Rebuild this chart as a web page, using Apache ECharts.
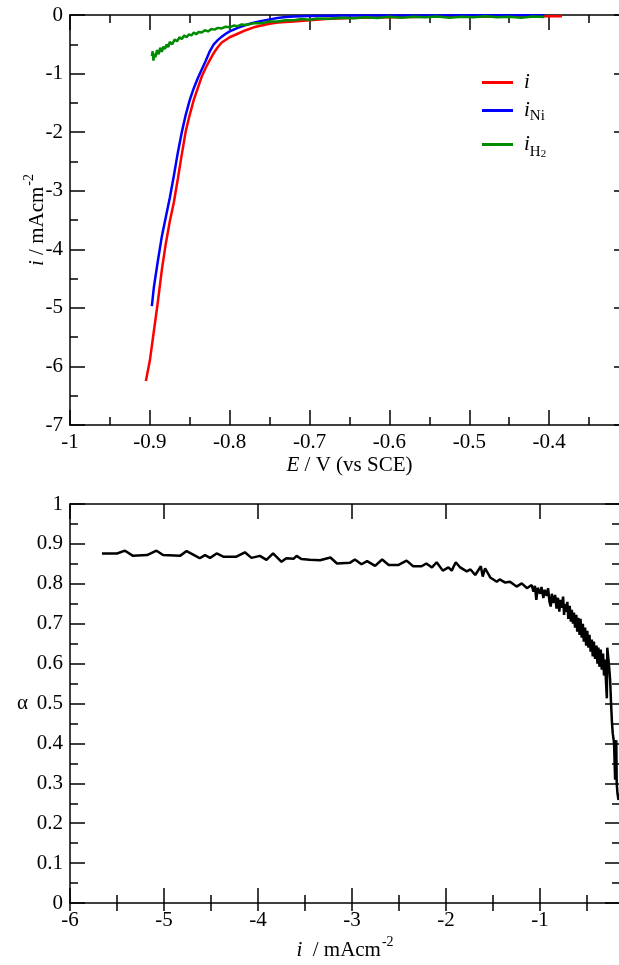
<!DOCTYPE html>
<html>
<head>
<meta charset="utf-8">
<script src="https://cdn.jsdelivr.net/npm/echarts@6/dist/echarts.min.js"></script>
<style>
  html, body { margin: 0; padding: 0; background: #fff; overflow: hidden; }
  #chart { width: 640px; height: 965px; }
</style>
</head>
<body>
<div id="chart"></div>
<script>
// top panel: current vs potential
const redE = [-0.905, -0.900, -0.895, -0.890, -0.885, -0.880, -0.875, -0.870, -0.865, -0.860, -0.855, -0.850, -0.845, -0.840, -0.835, -0.830, -0.825, -0.820, -0.815, -0.810, -0.800, -0.790, -0.780, -0.770, -0.760, -0.750, -0.740, -0.720, -0.700, -0.680, -0.650, -0.600, -0.550, -0.500, -0.450, -0.400, -0.384];
const redI = [-6.25, -5.90, -5.40, -4.90, -4.35, -3.90, -3.52, -3.20, -2.80, -2.38, -1.98, -1.70, -1.45, -1.25, -1.05, -0.90, -0.77, -0.65, -0.55, -0.47, -0.38, -0.32, -0.26, -0.21, -0.18, -0.15, -0.13, -0.11, -0.09, -0.07, -0.05, -0.04, -0.03, -0.03, -0.025, -0.02, -0.02];

const blueE = [-0.8975, -0.895, -0.890, -0.885, -0.880, -0.875, -0.870, -0.865, -0.860, -0.855, -0.850, -0.845, -0.840, -0.835, -0.830, -0.825, -0.820, -0.815, -0.810, -0.805, -0.800, -0.790, -0.780, -0.770, -0.760, -0.750, -0.740, -0.730, -0.720, -0.700, -0.650, -0.600, -0.550, -0.500, -0.450, -0.406];
const blueI = [-4.97, -4.65, -4.20, -3.78, -3.45, -3.12, -2.75, -2.35, -2.00, -1.70, -1.45, -1.25, -1.08, -0.93, -0.78, -0.62, -0.50, -0.43, -0.37, -0.32, -0.28, -0.22, -0.17, -0.13, -0.10, -0.075, -0.05, -0.035, -0.025, -0.015, -0.01, -0.01, -0.01, -0.005, -0.005, -0.005];

const greenE = [-0.8975, -0.8965, -0.8955, -0.8945, -0.893, -0.891, -0.889, -0.887, -0.885, -0.883, -0.881, -0.879, -0.877, -0.875, -0.872, -0.869, -0.866, -0.863, -0.860, -0.857, -0.854, -0.851, -0.848, -0.845, -0.842, -0.839, -0.835, -0.831, -0.827, -0.823, -0.819, -0.815, -0.810, -0.805, -0.800, -0.795, -0.790, -0.785, -0.780, -0.770, -0.760, -0.750, -0.740, -0.730, -0.720, -0.710, -0.700, -0.690, -0.675, -0.660, -0.645, -0.630, -0.615, -0.600, -0.585, -0.570, -0.555, -0.540, -0.525, -0.510, -0.495, -0.480, -0.465, -0.450, -0.435, -0.420, -0.406];
const greenI = [-0.70, -0.62, -0.78, -0.66, -0.72, -0.60, -0.67, -0.56, -0.63, -0.54, -0.58, -0.50, -0.55, -0.46, -0.50, -0.42, -0.45, -0.38, -0.41, -0.35, -0.38, -0.33, -0.35, -0.30, -0.33, -0.29, -0.30, -0.26, -0.28, -0.24, -0.25, -0.22, -0.23, -0.20, -0.21, -0.18, -0.19, -0.16, -0.17, -0.14, -0.14, -0.11, -0.11, -0.09, -0.09, -0.07, -0.08, -0.06, -0.065, -0.045, -0.055, -0.04, -0.05, -0.03, -0.045, -0.03, -0.04, -0.025, -0.045, -0.03, -0.04, -0.02, -0.04, -0.03, -0.045, -0.025, -0.035];

// bottom panel: alpha vs current
const alphaI = [-5.66, -5.50, -5.415, -5.33, -5.18, -5.08, -5.01, -4.83, -4.76, -4.65, -4.62, -4.564, -4.51, -4.44, -4.37, -4.23, -4.14, -4.07, -3.98, -3.91, -3.84, -3.75, -3.70, -3.62, -3.59, -3.54, -3.45, -3.34, -3.23, -3.16, -3.02, -2.97, -2.90, -2.84, -2.755, -2.68, -2.61, -2.51, -2.42, -2.35, -2.26, -2.21, -2.15, -2.10, -2.035, -1.975, -1.94, -1.897, -1.85, -1.78, -1.74, -1.69, -1.63, -1.61, -1.585, -1.53, -1.46, -1.43, -1.37, -1.32, -1.25, -1.195, -1.14,
    -1.09, -1.07, -1.055, -1.04, -1.025, -1.00, -0.985, -0.965, -0.95, -0.93, -0.915, -0.90, -0.887, -0.875, -0.86, -0.84, -0.825, -0.81, -0.795, -0.785, -0.77, -0.755, -0.745, -0.734, -0.72, -0.71, -0.70, -0.685, -0.672, -0.663, -0.65, -0.64, -0.628, -0.615, -0.605, -0.593, -0.58, -0.57, -0.557, -0.545, -0.535, -0.521, -0.51, -0.498, -0.486, -0.475, -0.462, -0.45, -0.44, -0.428, -0.415, -0.40, -0.39, -0.38, -0.368, -0.355, -0.344, -0.33, -0.32, -0.309, -0.30,
    -0.29, -0.285, -0.273, -0.265, -0.255, -0.245, -0.235, -0.227, -0.213, -0.205, -0.202, -0.198, -0.19, -0.185, -0.177, -0.166];
const alphaV = [0.876, 0.876, 0.883, 0.870, 0.872, 0.883, 0.872, 0.870, 0.882, 0.868, 0.864, 0.872, 0.865, 0.876, 0.868, 0.868, 0.879, 0.865, 0.870, 0.860, 0.876, 0.855, 0.864, 0.863, 0.870, 0.862, 0.860, 0.859, 0.866, 0.851, 0.853, 0.861, 0.849, 0.857, 0.845, 0.861, 0.847, 0.847, 0.858, 0.844, 0.844, 0.851, 0.841, 0.854, 0.833, 0.841, 0.833, 0.854, 0.841, 0.831, 0.836, 0.822, 0.844, 0.818, 0.839, 0.816, 0.805, 0.811, 0.803, 0.805, 0.793, 0.801, 0.789,
    0.797, 0.780, 0.795, 0.760, 0.790, 0.775, 0.792, 0.764, 0.785, 0.770, 0.789, 0.755, 0.743, 0.775, 0.752, 0.772, 0.738, 0.765, 0.730, 0.760, 0.740, 0.768, 0.722, 0.750, 0.730, 0.755, 0.712, 0.745, 0.705, 0.735, 0.700, 0.728, 0.690, 0.722, 0.680, 0.715, 0.672, 0.712, 0.665, 0.700, 0.655, 0.690, 0.645, 0.682, 0.640, 0.672, 0.630, 0.660, 0.618, 0.655, 0.612, 0.645, 0.600, 0.640, 0.592, 0.635, 0.585, 0.625, 0.570, 0.610, 0.560,
    0.513, 0.640, 0.642, 0.590, 0.559, 0.500, 0.450, 0.425, 0.400, 0.400, 0.309, 0.400, 0.408, 0.300, 0.275, 0.258];

const seriesNames = ['i', 'iNi', 'iH2'];
const legendLabels = {
    'i': '{it|i}',
    'iNi': '{it|i}{sub|Ni}',
    'iH2': '{it|i}{sub|H}{sub2|2}'
};

const FONT = '"Liberation Serif", "DejaVu Serif", serif';

function pairs(xs, ys) {
    return xs.map(function (x, k) { return [x, ys[k]]; });
}

function numLabel(v) {
    return String(+v.toFixed(2));
}

function axisBase(extra) {
    let base = {
        type: 'value',
        scale: true,
        nameMoveOverlap: false,
        axisLine: { show: true, onZero: false, lineStyle: { color: '#000', width: 1.5 } },
        axisTick: { show: true, inside: true, length: 15, lineStyle: { color: '#000', width: 1.5 } },
        splitLine: { show: false },
        axisLabel: { show: false }
    };
    return Object.assign(base, extra);
}

const minor = { show: true, splitNumber: 2, length: 8, lineStyle: { color: '#000', width: 1.5 } };
const tickLabel = { color: '#000', fontFamily: FONT, fontSize: 21, margin: 7 };
const nameStyle = {
    color: '#000', fontFamily: FONT, fontSize: 21,
    rich: {
        it: { fontStyle: 'italic', fontFamily: FONT, fontSize: 21, color: '#000', verticalAlign: 'bottom' },
        n: { fontFamily: FONT, fontSize: 21, color: '#000', verticalAlign: 'bottom' },
        sup: { fontFamily: FONT, fontSize: 14, color: '#000', verticalAlign: 'top', padding: [0, 0, 12, 1] }
    }
};

let chart = echarts.init(document.getElementById('chart'), null, { renderer: 'canvas' });

let option = {
    animation: false,
    backgroundColor: '#fff',
    grid: [
        { left: 70, top: 15, width: 559, height: 410, containLabel: false },
        { left: 70, top: 504, width: 550, height: 399, containLabel: false }
    ],
    xAxis: [
        axisBase({
            gridIndex: 0, position: 'bottom', min: -1, max: -0.3, interval: 0.1,
            minorTick: minor,
            axisLabel: Object.assign({ show: true, formatter: function (v) {
                return v > -0.35 ? '' : numLabel(v);
            } }, tickLabel),
            name: '{it|E}{n| / V (vs SCE)}', nameLocation: 'middle', nameGap: 30,
            nameTextStyle: nameStyle
        }),
        axisBase({
            gridIndex: 0, position: 'top', min: -1, max: -0.3, interval: 0.1,
            minorTick: minor
        }),
        axisBase({
            gridIndex: 1, position: 'bottom', min: -6, max: -0.15, interval: 1,
            axisLabel: Object.assign({ show: true, formatter: function (v) {
                return Math.abs(v - Math.round(v)) > 1e-6 ? '' : numLabel(v);
            } }, tickLabel),
            name: '{it|i}{n|  / mAcm}{sup|-2}', nameLocation: 'middle', nameGap: 32,
            nameTextStyle: nameStyle
        }),
        axisBase({
            gridIndex: 1, position: 'top', min: -6, max: -0.15, interval: 1
        }),
        axisBase({
            gridIndex: 1, position: 'top', min: -6, max: -0.15, interval: 0.5,
            axisLine: { show: false },
            axisTick: { show: true, inside: true, length: 8, lineStyle: { color: '#000', width: 1.5 } }
        }),
        axisBase({
            gridIndex: 1, position: 'bottom', min: -6, max: -0.15, interval: 0.5,
            axisLine: { show: false },
            axisTick: { show: true, inside: true, length: 8, lineStyle: { color: '#000', width: 1.5 } }
        })
    ],
    yAxis: [
        axisBase({
            gridIndex: 0, position: 'left', min: -7, max: 0, interval: 1,
            minorTick: minor,
            axisLabel: Object.assign({ show: true, formatter: numLabel }, tickLabel),
            name: '{it|i}{n| / mAcm}{sup|-2}', nameLocation: 'middle', nameGap: 22,
            nameTextStyle: nameStyle
        }),
        axisBase({
            gridIndex: 0, position: 'right', min: -7, max: 0, interval: 1,
            minorTick: minor
        }),
        axisBase({
            gridIndex: 1, position: 'left', min: 0, max: 1, interval: 0.1,
            minorTick: minor,
            axisLabel: Object.assign({ show: true, formatter: numLabel }, tickLabel),
            name: 'α', nameLocation: 'middle', nameGap: 42, nameRotate: 0,
            nameTextStyle: { color: '#000', fontFamily: FONT, fontSize: 21, padding: [16, 0, 0, 0] }
        }),
        axisBase({
            gridIndex: 1, position: 'right', min: 0, max: 1, interval: 0.1,
            minorTick: minor
        })
    ],
    legend: [67, 95, 129].map(function (top, k) {
        return {
            data: [seriesNames[k]],
            left: 477,
            top: top,
            icon: 'rect',
            itemWidth: 31,
            itemHeight: 3,
            itemGap: 10,
            selectedMode: false,
            formatter: function (name) { return legendLabels[name]; },
            textStyle: {
                color: '#000', fontFamily: FONT, fontSize: 21,
                padding: [0, 0, 0, 6],
                rich: {
                    it: { fontStyle: 'italic', fontFamily: FONT, fontSize: 21, color: '#000' },
                    sub: { fontFamily: FONT, fontSize: 15, color: '#000', verticalAlign: 'bottom', padding: [12, 0, 0, 0] },
                    sub2: { fontFamily: FONT, fontSize: 11, color: '#000', verticalAlign: 'bottom', padding: [20, 0, 0, 0] }
                }
            }
        };
    }),
    series: [
        {
            name: 'i', type: 'line', xAxisIndex: 0, yAxisIndex: 0,
            data: pairs(redE, redI), showSymbol: false, symbol: 'none',
            lineStyle: { color: '#ff0000', width: 2.5 }, itemStyle: { color: '#ff0000' }
        },
        {
            name: 'iNi', type: 'line', xAxisIndex: 0, yAxisIndex: 0,
            data: pairs(blueE, blueI), showSymbol: false, symbol: 'none',
            lineStyle: { color: '#0000ff', width: 2.5 }, itemStyle: { color: '#0000ff' }
        },
        {
            name: 'iH2', type: 'line', xAxisIndex: 0, yAxisIndex: 0,
            data: pairs(greenE, greenI), showSymbol: false, symbol: 'none',
            lineStyle: { color: '#008b00', width: 2.5 }, itemStyle: { color: '#008b00' }
        },
        {
            name: 'alpha', type: 'line', xAxisIndex: 2, yAxisIndex: 2,
            data: pairs(alphaI, alphaV), showSymbol: false, symbol: 'none',
            lineStyle: { color: '#000', width: 2.5 }, itemStyle: { color: '#000' }
        }
    ]
};

chart.setOption(option, true);
</script>
</body>
</html>
